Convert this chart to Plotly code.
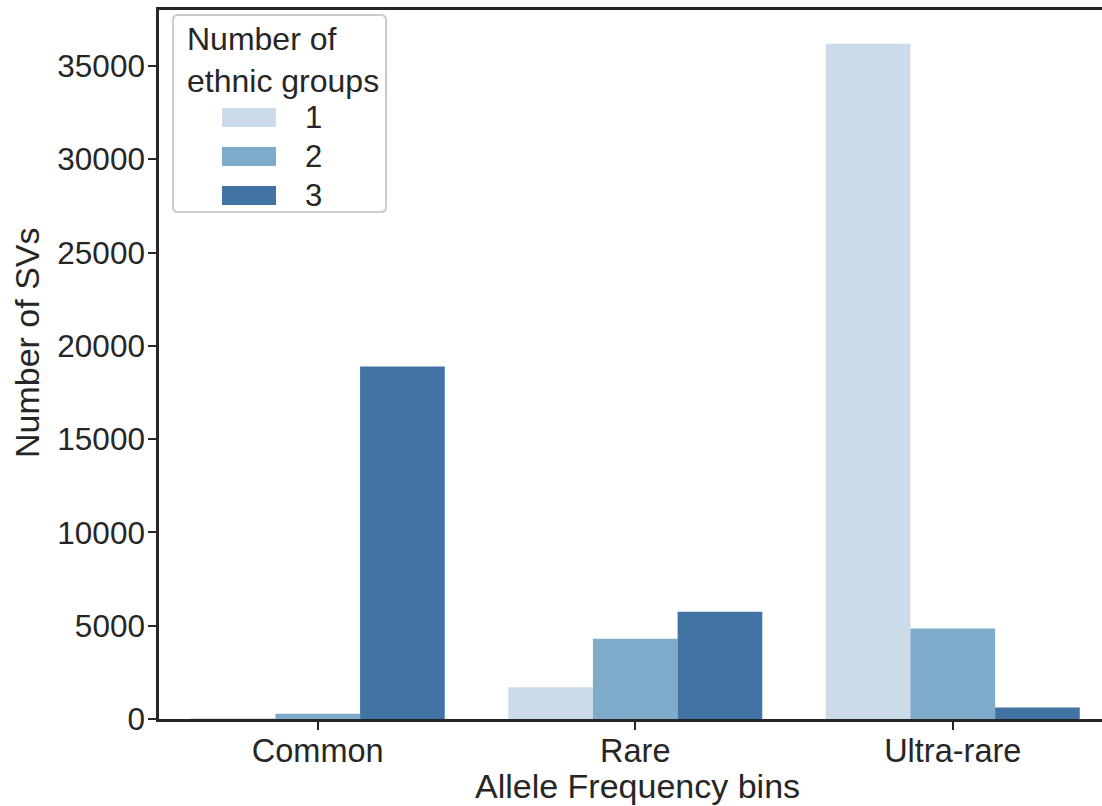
import plotly.graph_objects as go

# Allele frequency bins and SV counts by number of ethnic groups sharing them
bins = ["Common", "Rare", "Ultra-rare"]
group_labels = ["1", "2", "3"]
counts_1 = [50, 1700, 36200]
counts_2 = [280, 4300, 4850]
counts_3 = [18900, 5750, 620]
series = [counts_1, counts_2, counts_3]
colors = ["#cbdbea", "#7fabca", "#4174a4"]
y_ticks = [0, 5000, 10000, 15000, 20000, 25000, 30000, 35000]

W, H = 1102, 806
L, R, T, B = 159, 0, 10, 87
FONT = "Liberation Sans, Arial, sans-serif"
INK = "#262626"

fig = go.Figure()
for lab, vals, col in zip(group_labels, series, colors):
    fig.add_trace(go.Bar(x=bins, y=vals, name=lab, marker=dict(color=col, line=dict(width=0)),
                         showlegend=False))

# helpers to place legend and titles in pixel terms
pw, ph = W - L - R, H - T - B
def px(x):
    return (x - L) / pw
def py(y):
    return (H - B - y) / ph

shapes = []
# legend frame with rounded corners
x0, x1, y0, y1, r = 173, 386, 15, 212, 5
path = (f"M{px(x0 + r)},{py(y0)} L{px(x1 - r)},{py(y0)} Q{px(x1)},{py(y0)} {px(x1)},{py(y0 + r)} "
        f"L{px(x1)},{py(y1 - r)} Q{px(x1)},{py(y1)} {px(x1 - r)},{py(y1)} "
        f"L{px(x0 + r)},{py(y1)} Q{px(x0)},{py(y1)} {px(x0)},{py(y1 - r)} "
        f"L{px(x0)},{py(y0 + r)} Q{px(x0)},{py(y0)} {px(x0 + r)},{py(y0)} Z")
shapes.append(dict(type="path", xref="paper", yref="paper", path=path,
                   line=dict(color="#cccccc", width=2), fillcolor="rgba(255,255,255,0.8)", layer="above"))

annotations = []
annotations.append(dict(text="Number of<br>ethnic groups", xref="paper", yref="paper",
                        x=px(185), y=py(19), xanchor="left", yanchor="top", align="left",
                        showarrow=False, font=dict(family=FONT, size=32, color=INK)))
sw_tops = [108, 147, 186]
for lab, col, top in zip(group_labels, colors, sw_tops):
    shapes.append(dict(type="rect", xref="paper", yref="paper",
                       x0=px(222), x1=px(276), y0=py(top), y1=py(top + 19),
                       fillcolor=col, line=dict(width=0), layer="above"))
    annotations.append(dict(text=lab, xref="paper", yref="paper", x=px(313), y=py(top + 9.5),
                            xanchor="center", yanchor="middle", showarrow=False,
                            font=dict(family=FONT, size=31, color=INK)))

# axis titles
annotations.append(dict(text="Allele Frequency bins", xref="paper", yref="paper",
                        x=px(637), y=py(786), xanchor="center", yanchor="middle",
                        showarrow=False, font=dict(family=FONT, size=34, color=INK)))
annotations.append(dict(text="Number of SVs", xref="paper", yref="paper",
                        x=px(27), y=py(343), xanchor="center", yanchor="middle", textangle=-90,
                        showarrow=False, font=dict(family=FONT, size=34, color=INK)))

fig.update_layout(
    width=W, height=H,
    margin=dict(l=L, r=R, t=T, b=B),
    paper_bgcolor="white", plot_bgcolor="white",
    barmode="group", bargap=0.2, bargroupgap=0,
    font=dict(family=FONT, color=INK),
    shapes=shapes, annotations=annotations,
)
fig.update_xaxes(
    range=[-0.5, 2.47], showline=True, linecolor=INK, linewidth=2.5, mirror=True,
    ticks="outside", ticklen=8, tickwidth=2, tickcolor=INK, ticklabelstandoff=-7,
    tickfont=dict(family=FONT, size=32.5, color=INK), showgrid=False,
)
fig.update_yaxes(
    range=[0, 38010], showline=True, linecolor=INK, linewidth=2.5,
    ticks="outside", ticklen=8, tickwidth=2, tickcolor=INK, ticklabelstandoff=-3,
    tickvals=y_ticks, tickformat="d", zeroline=False, showgrid=False,
    tickfont=dict(family=FONT, size=31.5, color=INK),
)

fig.write_html("out.html")
